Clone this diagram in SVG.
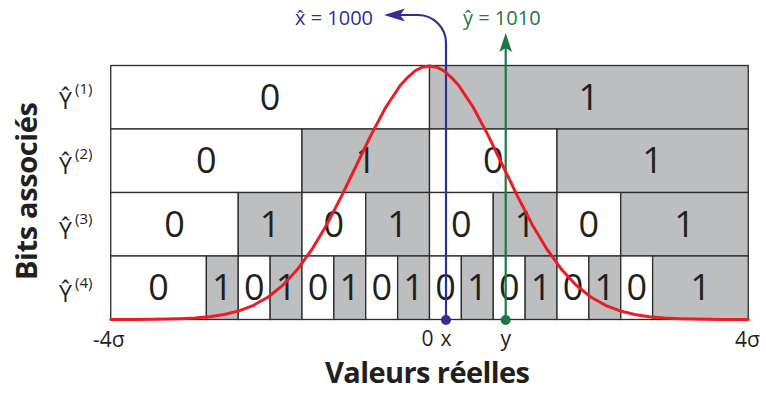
<svg xmlns="http://www.w3.org/2000/svg" width="766" height="394" viewBox="0 0 766 394">
<style>
.c{stroke:#2b2b2b;stroke-width:1.3}
.w{fill:#ffffff}
.g{fill:#bcbec0}
.d{font-family:"Open Sans","Noto Sans",sans-serif;font-size:36px;fill:#231f20;text-anchor:middle}
.yl{font-family:"Open Sans","Noto Sans",sans-serif;font-size:23px;fill:#231f20}
.sup{font-family:"Open Sans","Noto Sans",sans-serif;font-size:15px;fill:#231f20}
.ax{font-family:"Open Sans","Noto Sans",sans-serif;font-size:21px;fill:#231f20}
.ttl{font-family:"Open Sans","Noto Sans",sans-serif;font-size:29px;font-weight:bold;fill:#231f20}
.lab{font-family:"Open Sans","Noto Sans",sans-serif;font-size:20px}
</style>
<rect width="766" height="394" fill="#ffffff"/>
<g id="row1">
<g id="r1c0"><rect class="c w" x="110.75" y="65.5" width="318.75" height="63.5"/><text class="d" x="270.125" y="109.75">0</text></g>
<g id="r1c1"><rect class="c g" x="429.5" y="65.5" width="318.75" height="63.5"/><text class="d" x="588.875" y="109.75">1</text></g>
</g>
<g id="row2">
<g id="r2c0"><rect class="c w" x="110.75" y="129" width="191.25" height="63.5"/><text class="d" x="206.375" y="173.25">0</text></g>
<g id="r2c1"><rect class="c g" x="302" y="129" width="127.5" height="63.5"/><text class="d" x="365.75" y="173.25">1</text></g>
<g id="r2c2"><rect class="c w" x="429.5" y="129" width="127.5" height="63.5"/><text class="d" x="493.25" y="173.25">0</text></g>
<g id="r2c3"><rect class="c g" x="557" y="129" width="191.25" height="63.5"/><text class="d" x="652.625" y="173.25">1</text></g>
</g>
<g id="row3">
<g id="r3c0"><rect class="c w" x="110.75" y="192.5" width="127.5" height="63.5"/><text class="d" x="174.5" y="236.75">0</text></g>
<g id="r3c1"><rect class="c g" x="238.25" y="192.5" width="63.75" height="63.5"/><text class="d" x="270.125" y="236.75">1</text></g>
<g id="r3c2"><rect class="c w" x="302" y="192.5" width="63.75" height="63.5"/><text class="d" x="333.875" y="236.75">0</text></g>
<g id="r3c3"><rect class="c g" x="365.75" y="192.5" width="63.75" height="63.5"/><text class="d" x="397.625" y="236.75">1</text></g>
<g id="r3c4"><rect class="c w" x="429.5" y="192.5" width="63.75" height="63.5"/><text class="d" x="461.375" y="236.75">0</text></g>
<g id="r3c5"><rect class="c g" x="493.25" y="192.5" width="63.75" height="63.5"/><text class="d" x="525.125" y="236.75">1</text></g>
<g id="r3c6"><rect class="c w" x="557" y="192.5" width="63.75" height="63.5"/><text class="d" x="588.875" y="236.75">0</text></g>
<g id="r3c7"><rect class="c g" x="620.75" y="192.5" width="127.5" height="63.5"/><text class="d" x="684.5" y="236.75">1</text></g>
</g>
<g id="row4">
<g id="r4c0"><rect class="c w" x="110.75" y="256" width="95.625" height="63.5"/><text class="d" x="158.56" y="300.25">0</text></g>
<g id="r4c1"><rect class="c g" x="206.375" y="256" width="31.875" height="63.5"/><text class="d" x="222.31" y="300.25">1</text></g>
<g id="r4c2"><rect class="c w" x="238.25" y="256" width="31.875" height="63.5"/><text class="d" x="254.19" y="300.25">0</text></g>
<g id="r4c3"><rect class="c g" x="270.125" y="256" width="31.875" height="63.5"/><text class="d" x="286.06" y="300.25">1</text></g>
<g id="r4c4"><rect class="c w" x="302" y="256" width="31.875" height="63.5"/><text class="d" x="317.94" y="300.25">0</text></g>
<g id="r4c5"><rect class="c g" x="333.875" y="256" width="31.875" height="63.5"/><text class="d" x="349.81" y="300.25">1</text></g>
<g id="r4c6"><rect class="c w" x="365.75" y="256" width="31.875" height="63.5"/><text class="d" x="381.69" y="300.25">0</text></g>
<g id="r4c7"><rect class="c g" x="397.625" y="256" width="31.875" height="63.5"/><text class="d" x="413.56" y="300.25">1</text></g>
<g id="r4c8"><rect class="c w" x="429.5" y="256" width="31.875" height="63.5"/><text class="d" x="445.44" y="300.25">0</text></g>
<g id="r4c9"><rect class="c g" x="461.375" y="256" width="31.875" height="63.5"/><text class="d" x="477.31" y="300.25">1</text></g>
<g id="r4c10"><rect class="c w" x="493.25" y="256" width="31.875" height="63.5"/><text class="d" x="509.19" y="300.25">0</text></g>
<g id="r4c11"><rect class="c g" x="525.125" y="256" width="31.875" height="63.5"/><text class="d" x="541.06" y="300.25">1</text></g>
<g id="r4c12"><rect class="c w" x="557" y="256" width="31.875" height="63.5"/><text class="d" x="572.94" y="300.25">0</text></g>
<g id="r4c13"><rect class="c g" x="588.875" y="256" width="31.875" height="63.5"/><text class="d" x="604.81" y="300.25">1</text></g>
<g id="r4c14"><rect class="c w" x="620.75" y="256" width="31.875" height="63.5"/><text class="d" x="636.69" y="300.25">0</text></g>
<g id="r4c15"><rect class="c g" x="652.625" y="256" width="95.625" height="63.5"/><text class="d" x="700.44" y="300.25">1</text></g>
</g>
<g id="row-labels">
<g id="ylab1"><text class="yl" x="59" y="108.5">Ŷ</text><text class="sup" x="75" y="94">(1)</text></g>
<g id="ylab2"><text class="yl" x="59" y="173.5">Ŷ</text><text class="sup" x="75" y="159">(2)</text></g>
<g id="ylab3"><text class="yl" x="59" y="238.5">Ŷ</text><text class="sup" x="75" y="224">(3)</text></g>
<g id="ylab4"><text class="yl" x="59" y="302">Ŷ</text><text class="sup" x="75" y="287.5">(4)</text></g>
</g>
<g id="connectors">
<g id="x-marker">
<path d="M446,320 V43 A28,28 0 0 0 418,15 H398" fill="none" stroke="#2e3192" stroke-width="2.2"/>
<polygon points="384,15 405,8.5 400,15 405,21.5" fill="#2e3192"/>
<circle cx="446" cy="320" r="5" fill="#2e3192"/>
</g>
<g id="y-marker">
<path d="M505.7,320 V46" fill="none" stroke="#1c7745" stroke-width="2.2"/>
<polygon points="505.7,33 512,52 505.7,48 499.4,52" fill="#1c7745"/>
<circle cx="505.7" cy="320" r="5" fill="#1c7745"/>
</g>
<polyline id="gauss" fill="none" stroke="#ed1c24" stroke-width="3" stroke-linejoin="round" stroke-linecap="round" points="110.75,319.5 136.3,319.4 150.96,319.3 165.62,319.1 180.28,318.7 194.94,318 209.6,316.7 224.26,314.5 238.92,310.9 253.58,305.3 268.24,297 282.9,285.2 297.56,269.3 312.22,249 326.88,224.4 341.54,196.1 356.2,165.75 370.86,135.4 385.52,107.75 400.18,85.5 407.5,77.6 414.84,71 422.2,67.2 429.5,66 436.8,67.2 444.16,71 451.5,77.6 458.82,85.5 473.48,107.75 488.14,135.4 502.8,165.75 517.46,196.1 532.12,224.4 546.78,249 561.44,269.3 576.1,285.2 590.76,297 605.42,305.3 620.08,310.9 634.74,314.5 649.4,316.7 664.06,318 678.72,318.7 693.38,319.1 708.04,319.3 722.7,319.4 748.25,319.5"/>
</g>
<g id="marker-labels">
<text class="lab" x="295" y="25" fill="#2e3192">x̂ = 1000</text>
<text class="lab" x="463" y="25" fill="#1c7745">ŷ = 1010</text>
</g>
<g id="axis-labels">
<text class="ax" x="93" y="347">-4σ</text>
<text class="ax" x="421.5" y="346">0</text>
<text class="ax" x="446" y="346" fill="#2e3192" text-anchor="middle">x</text>
<text class="ax" x="505.7" y="346" fill="#1c7745" text-anchor="middle">y</text>
<text class="ax" x="735" y="347">4σ</text>
<text class="ttl" x="427.5" y="383" text-anchor="middle" textLength="205">Valeurs réelles</text>
<text class="ttl" transform="translate(37,191) rotate(-90)" text-anchor="middle" textLength="178">Bits associés</text>
</g>
</svg>
